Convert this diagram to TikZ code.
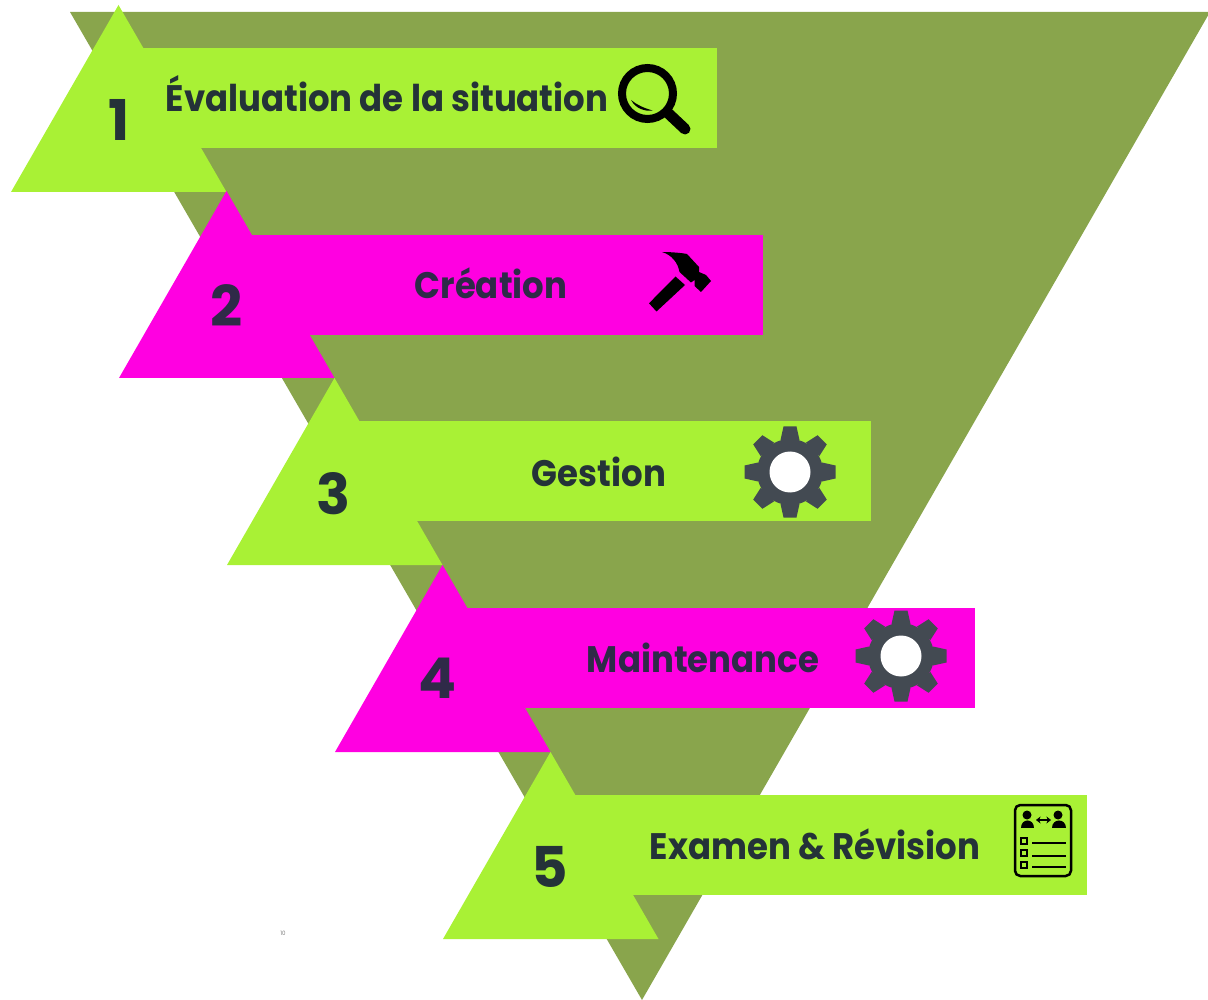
\documentclass[tikz,border=0pt]{standalone}
\usepackage{fontspec}
\setmainfont{Poppins}[FakeStretch=0.92]
\newfontfamily\numfont{Poppins Bold}
\usetikzlibrary{arrows.meta}
\definecolor{StepLime}{HTML}{A9F135}
\definecolor{StepPink}{HTML}{FF00E1}
\definecolor{FunnelGreen}{HTML}{89A54C}
\definecolor{InkLime}{HTML}{243238}
\definecolor{InkPink}{HTML}{2F2A48}
\definecolor{GearGrey}{HTML}{434A52}
\tikzset{
    steptext/.style={font=\fontsize{21}{21}\selectfont\bfseries, inner sep=0pt, anchor=base},
    stepnum/.style={font=\numfont\fontsize{32}{32}\selectfont, inner sep=0pt, anchor=base},
    pics/gearicon/.style={code={
        \fill[GearGrey] (0,0) circle (33);
        \foreach \a in {0,45,...,315} {
            \fill[GearGrey, rotate=\a] (32,-9.5) -- (45.5,-6.5) -- (45.5,6.5) -- (32,9.5) -- cycle;
        }
        \fill[white] (0,0) circle (20.5);
    }}
}
\begin{document}
\begin{tikzpicture}[x=0.02cm, y=-0.02cm]
\useasboundingbox (0,0) rectangle (1208,1000);

\fill[FunnelGreen] (70,12) -- (1210,12) -- (642,1000) -- cycle;

% apex x, apex y, top of band, right end of band, colour
\foreach \n/\x/\y/\t/\r/\c in {1/118.5/5/48/717/StepLime,2/226.5/191/235/763/StepPink,3/334.5/378/421/871/StepLime,4/442.5/565/608/975/StepPink,5/550.5/752/795/1087/StepLime} {
    \fill[\c] (\x,\t) rectangle (\r,\t+100);
    \fill[\c] (\x,\y) -- (\x+108,\y+187) -- (\x-107.5,\y+187) -- cycle;
}

\node[steptext, text=InkLime] (eval) at (387,112) {Évaluation de la situation};
\node[steptext, text=InkPink] (crea) at (491,299) {Création};
\node[steptext, text=InkLime] (gest) at (599,486) {Gestion};
\node[steptext, text=InkPink] (main) at (703,672) {Maintenance};
\node[steptext, text=InkLime] (exam) at (815,859) {Examen \& Révision};

\node[stepnum, text=InkLime] (num1) at (119,141) {1};
\node[stepnum, text=InkPink] (num2) at (227,327) {2};
\node[stepnum, text=InkLime] (num3) at (334,514) {3};
\node[stepnum, text=InkPink] (num4) at (438,698) {4};
\node[stepnum, text=InkLime] (num5) at (550,887) {5};

\node[font=\fontsize{3.4}{4}\selectfont, text=gray, inner sep=0pt] (page) at (283,933) {10};

% loupe
\draw[line width=0.16cm] (647.5,93.5) circle (25.5);
\draw[line width=0.22cm, line cap=round] (669,114) -- (685,129);
\fill (631,100) .. controls (636,109) and (645,111.5) .. (652.5,110.5) .. controls (644,108) and (637,105) .. cycle;

% hammer
\fill (662,252) .. controls (672,252) and (682,253) .. (687,254) -- (699,267) -- (699,272) -- (706,275) -- (711,281)
    -- (701,292) -- (694.5,286) -- (694.5,280) -- (691,282.5) -- (679.5,272) .. controls (678,263) and (672,255) .. cycle;
\fill (675.5,276.5) -- (685,285) -- (656.5,311.5) -- (649,303.3) -- cycle;

% gears
\pic at (790,472) {gearicon};
\pic at (901,656) {gearicon};

% sheet
\draw[line width=0.05cm, rounded corners=3pt] (1015,805) rectangle (1071,876);
\fill (1027,815) circle (4.5);
\fill (1058,815) circle (4.5);
\fill (1021,828) .. controls (1021,818) and (1034,818) .. (1034,828) -- cycle;
\fill (1052,828) .. controls (1052,818) and (1066,818) .. (1066,828) -- cycle;
\draw[{Stealth[length=2.6pt,width=4pt]}-{Stealth[length=2.6pt,width=4pt]}, line width=0.03cm] (1036,820) -- (1051,820);
\foreach \y/\v in {841/843,853/856,865/867} {
    \draw[line width=0.05cm] (1021,\y-3) rectangle (1027,\y+3);
    \draw[line width=0.05cm] (1032,\v) -- (1066,\v);
}
\end{tikzpicture}
\end{document}
